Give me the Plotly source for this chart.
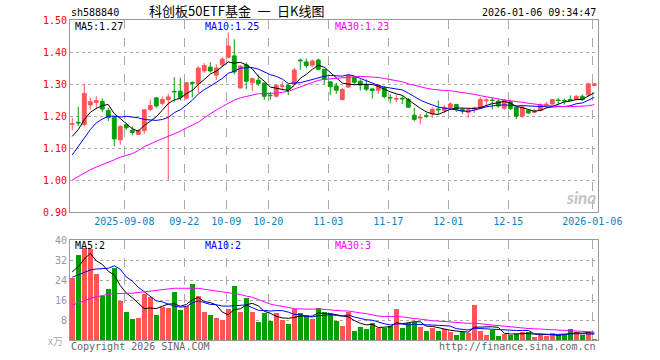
import pandas as pd
import plotly.graph_objects as go

# ---------------- data ----------------
holidays = ["2025-10-01", "2025-10-02", "2025-10-03", "2025-10-06", "2025-10-07",
            "2025-10-08", "2026-01-01", "2026-01-02"]
dates = [d.strftime("%Y-%m-%d") for d in pd.bdate_range("2025-08-26", "2026-01-06")
         if d.strftime("%Y-%m-%d") not in holidays]

tick_dates = ["2025-09-08", "2025-09-22", "2025-10-09", "2025-10-20", "2025-11-03",
              "2025-11-17", "2025-12-01", "2025-12-15", "2026-01-06"]
tick_labels = ["2025-09-08", "09-22", "10-09", "10-20", "11-03", "11-17", "12-01", "12-15", "2026-01-06"]

opens = [1.175, 1.181, 1.174, 1.235, 1.243, 1.246, 1.218, 1.196, 1.126, 1.173,
         1.156, 1.143, 1.155, 1.221, 1.257, 1.240, 1.252, 1.277, 1.278, 1.256,
         1.305, 1.302, 1.341, 1.353, 1.328, 1.360, 1.384, 1.388, 1.288, 1.360,
         1.304, 1.312, 1.303, 1.265, 1.262, 1.293, 1.296, 1.301, 1.375, 1.369,
         1.359, 1.375, 1.346, 1.307, 1.294, 1.252, 1.291, 1.322, 1.309, 1.299,
         1.285, 1.281, 1.289, 1.258, 1.253, 1.256, 1.252, 1.203, 1.194, 1.201,
         1.207, 1.222, 1.218, 1.226, 1.236, 1.221, 1.212, 1.222, 1.224, 1.248,
         1.250, 1.247, 1.225, 1.245, 1.228, 1.200, 1.218, 1.212, 1.218, 1.235,
         1.238, 1.250, 1.249, 1.252, 1.252, 1.262, 1.266, 1.296]
highs = [1.195, 1.230, 1.302, 1.258, 1.262, 1.255, 1.226, 1.200, 1.171, 1.176,
         1.168, 1.160, 1.223, 1.252, 1.260, 1.262, 1.270, 1.322, 1.320, 1.306,
         1.309, 1.356, 1.365, 1.368, 1.362, 1.385, 1.465, 1.440, 1.360, 1.368,
         1.320, 1.330, 1.305, 1.276, 1.300, 1.308, 1.299, 1.351, 1.380, 1.380,
         1.377, 1.380, 1.348, 1.310, 1.304, 1.289, 1.332, 1.324, 1.315, 1.315,
         1.287, 1.300, 1.294, 1.268, 1.268, 1.262, 1.257, 1.226, 1.207, 1.210,
         1.228, 1.249, 1.236, 1.244, 1.238, 1.226, 1.221, 1.230, 1.259, 1.257,
         1.257, 1.252, 1.254, 1.252, 1.231, 1.236, 1.221, 1.222, 1.240, 1.245,
         1.253, 1.257, 1.255, 1.265, 1.266, 1.268, 1.304, 1.304]
lows = [1.156, 1.169, 1.169, 1.220, 1.222, 1.212, 1.184, 1.106, 1.111, 1.157,
        1.140, 1.141, 1.145, 1.215, 1.226, 1.234, 1.000, 1.245, 1.249, 1.252,
        1.258, 1.272, 1.335, 1.336, 1.313, 1.355, 1.380, 1.330, 1.286, 1.285,
        1.278, 1.294, 1.251, 1.250, 1.258, 1.280, 1.266, 1.299, 1.344, 1.349,
        1.353, 1.343, 1.300, 1.265, 1.270, 1.249, 1.288, 1.299, 1.280, 1.278,
        1.255, 1.270, 1.255, 1.240, 1.243, 1.238, 1.226, 1.184, 1.174, 1.195,
        1.195, 1.207, 1.210, 1.221, 1.213, 1.207, 1.195, 1.210, 1.222, 1.228,
        1.221, 1.226, 1.220, 1.220, 1.191, 1.195, 1.207, 1.209, 1.215, 1.226,
        1.232, 1.236, 1.236, 1.247, 1.249, 1.247, 1.262, 1.294]
closes = [1.176, 1.179, 1.271, 1.245, 1.249, 1.222, 1.195, 1.129, 1.168, 1.164,
          1.149, 1.155, 1.220, 1.233, 1.232, 1.252, 1.260, 1.276, 1.259, 1.304,
          1.303, 1.350, 1.358, 1.341, 1.350, 1.378, 1.419, 1.338, 1.356, 1.309,
          1.317, 1.302, 1.262, 1.264, 1.296, 1.294, 1.283, 1.344, 1.373, 1.358,
          1.372, 1.346, 1.315, 1.292, 1.281, 1.283, 1.328, 1.306, 1.297, 1.284,
          1.280, 1.297, 1.261, 1.257, 1.255, 1.254, 1.228, 1.190, 1.196, 1.200,
          1.221, 1.220, 1.228, 1.238, 1.221, 1.216, 1.220, 1.225, 1.252, 1.250,
          1.249, 1.232, 1.250, 1.223, 1.200, 1.228, 1.210, 1.216, 1.236, 1.237,
          1.252, 1.249, 1.248, 1.249, 1.262, 1.252, 1.301, 1.301]
volumes = [24.7, 34.0, 36.9, 36.4, 26.4, 17.6, 20.4, 28.9, 15.7, 11.3,
           8.4, 8.9, 18.4, 17.1, 10.0, 13.3, 12.9, 19.3, 12.0, 13.6,
           22.4, 17.6, 11.3, 10.0, 8.9, 8.0, 12.4, 21.6, 11.3, 16.9,
           11.3, 7.1, 10.7, 7.6, 10.7, 8.0, 6.4, 12.3, 10.7, 10.0,
           8.4, 12.7, 11.3, 10.7, 7.7, 5.6, 11.3, 3.6, 5.3, 4.4,
           6.7, 4.9, 4.9, 5.6, 12.4, 4.9, 6.7, 7.1, 5.2, 3.6,
           4.7, 3.6, 4.3, 3.3, 2.0, 3.3, 2.9, 14.0, 3.6, 2.0,
           4.0, 1.6, 2.4, 2.0, 2.4, 3.1, 3.1, 1.1, 2.0, 1.6,
           2.7, 2.0, 2.0, 4.4, 3.3, 2.0, 3.3, 0.4]

# leading moving-average values (windows reach before the visible range)
ma5_head = [1.137, 1.158, 1.189, 1.212]
ma10_head = [1.079, 1.106, 1.132, 1.158, 1.179, 1.191, 1.200, 1.200, 1.197]
ma30_head = [1.001, 1.012, 1.022, 1.033, 1.041, 1.048, 1.056, 1.064, 1.072, 1.077,
             1.083, 1.093, 1.105, 1.113, 1.122, 1.130, 1.137, 1.144, 1.153, 1.163,
             1.171, 1.181, 1.195, 1.208, 1.219, 1.230, 1.241, 1.250, 1.257]
vma5_head = [27.3, 29.3, 32.3, 34.7]
vma10_head = [25.1, 26.0, 26.9, 28.0, 28.4, 28.7, 28.7, 29.7, 28.3]
vma30_head = [14.0, 14.7, 15.6, 16.7, 17.3, 17.7, 18.3, 18.5, 18.7, 18.7,
              18.7, 19.0, 19.2, 19.3, 19.6, 20.0, 20.3, 20.7, 20.7, 20.7,
              20.7, 20.7, 20.3, 20.0, 19.7, 19.2, 18.9, 18.6, 18.2]

price_ticks = [0.90, 1.00, 1.10, 1.20, 1.30, 1.40, 1.50]
vol_ticks = [8, 16, 24, 32, 40]

title_left = "sh588840"
title_main = "科创板50ETF基金\u2002一\u2002日K线图"
title_time = "2026-01-06 09:34:47"
ma_labels = ["MA5:1.27", "MA10:1.25", "MA30:1.23"]
vma_labels = ["MA5:2", "MA10:2", "MA30:3"]

# ---------------- derived ----------------
def moving(values, n, head):
    s = pd.Series(values).rolling(n).mean().tolist()
    return list(head) + s[len(head):]

idx = list(range(len(dates)))
ma5 = moving(closes, 5, ma5_head)
ma10 = moving(closes, 10, ma10_head)
ma30 = moving(closes, 30, ma30_head)
vma5 = moving(volumes, 5, vma5_head)
vma10 = moving(volumes, 10, vma10_head)
vma30 = moving(volumes, 30, vma30_head)

RED = "#ff5555"
GREEN = "#00a000"
vol_colors = [RED if c >= o else GREEN for o, c in zip(opens, closes)]
tickpos = [dates.index(d) - 0.33 for d in tick_dates]

MONO = "DejaVu Sans Mono"
fig = go.Figure()
fig.add_trace(go.Candlestick(
    x=idx, open=opens, high=highs, low=lows, close=closes,
    increasing=dict(line=dict(color=RED, width=1), fillcolor=RED),
    decreasing=dict(line=dict(color=GREEN, width=1), fillcolor=GREEN),
    whiskerwidth=0, xaxis="x", yaxis="y", hoverinfo="skip"))
for arr, col in [(ma5, "#000000"), (ma10, "#0000ff"), (ma30, "#ff00ff")]:
    fig.add_trace(go.Scatter(x=idx, y=arr, mode="lines", line=dict(color=col, width=1),
                             xaxis="x", yaxis="y", hoverinfo="skip"))
fig.add_trace(go.Bar(x=idx, y=volumes, marker=dict(color=vol_colors, line=dict(width=0)),
                     width=0.78, xaxis="x2", yaxis="y2", hoverinfo="skip"))
for arr, col in [(vma5, "#000000"), (vma10, "#0000ff"), (vma30, "#ff00ff")]:
    fig.add_trace(go.Scatter(x=idx, y=arr, mode="lines", line=dict(color=col, width=1),
                             xaxis="x2", yaxis="y2", hoverinfo="skip"))

xcommon = dict(range=[-0.38, 87.62], tickvals=tickpos, showgrid=True, gridcolor="#aaaaaa",
               griddash="dash", gridwidth=1, showline=True, mirror=True, linecolor="#999999",
               linewidth=1, zeroline=False, ticks="", fixedrange=True, automargin=False)
fig.update_layout(
    width=660, height=360, showlegend=False, hovermode=False,
    margin=dict(l=70, r=62, t=20, b=20, autoexpand=False),
    paper_bgcolor="white", plot_bgcolor="white",
    boxgap=0.2, boxgroupgap=0.2, bargap=0,
    font=dict(family=MONO, size=10, color="#000"),
    xaxis=dict(xcommon, anchor="y", ticktext=tick_labels,
               tickfont=dict(family=MONO, size=10, color="#0a82c8"),
               rangeslider=dict(visible=False)),
    xaxis2=dict(xcommon, anchor="y2", matches="x", showticklabels=False),
    yaxis=dict(domain=[0.399, 1.0], range=[0.9, 1.5], tickvals=price_ticks,
               ticktext=["%.2f" % v for v in price_ticks],
               tickfont=dict(family=MONO, size=10, color="#ff0000"),
               showgrid=True, gridcolor="#aaaaaa", griddash="dot", showline=True, mirror=True,
               linecolor="#999999", zeroline=False, ticks="", fixedrange=True, automargin=False),
    yaxis2=dict(domain=[0.0, 0.3125], range=[0, 40], tickvals=vol_ticks,
                ticktext=[str(v) for v in vol_ticks],
                tickfont=dict(family=MONO, size=10, color="#999999"),
                showgrid=True, gridcolor="#aaaaaa", griddash="dot", showline=True, mirror=True,
                linecolor="#999999", zeroline=False, ticks="", fixedrange=True, automargin=False),
)

def note(text, x, y, color="#000", size=10, xanchor="left", family=MONO, bg=None, **kw):
    fig.add_annotation(text=text, x=x, y=y, xref="paper", yref="paper", showarrow=False,
                       xanchor=xanchor, yanchor="middle",
                       font=dict(family=family, size=size, color=color),
                       bgcolor=bg, borderpad=0, **kw)

note(title_left, 0.0, 1.025)
note(title_main, 0.316, 1.029, size=13, xanchor="center", family="Noto Sans CJK SC")
note(title_time, 0.999, 1.025, xanchor="right")
for lab, col, xp in zip(ma_labels, ["#000", "#0000ff", "#ff00ff"], [0.008, 0.254, 0.500]):
    note(lab, xp, 0.981, color=col, bg="white")
for lab, col, xp in zip(vma_labels, ["#000", "#0000ff", "#ff00ff"], [0.008, 0.254, 0.500]):
    note(lab, xp, 0.294, color=col)
note("x万", -0.012, -0.003, color="#aaaaaa", xanchor="right", family="Noto Sans CJK SC", size=10)
note("Copyright 2026 SINA.COM", 0.0, -0.019, color="#666666")
note("http://finance.sina.com.cn", 0.999, -0.019, color="#666666", xanchor="right")
note("<i><b>sina</b></i>", 0.968, 0.444, color="#c4c4c4", size=17, xanchor="center", family="Lato")

fig.write_html("out.html", config={"displayModeBar": False, "staticPlot": True},
               post_script="document.body.style.margin='0';")
